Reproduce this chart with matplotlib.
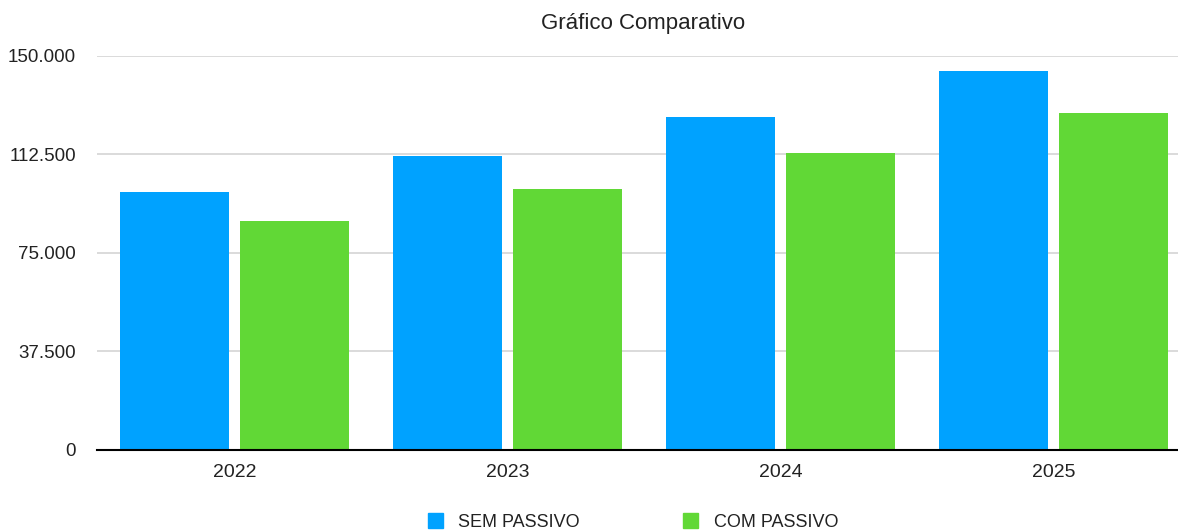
import matplotlib
matplotlib.use("Agg")
import matplotlib.pyplot as plt
import numpy as np
from matplotlib.patches import Patch
from matplotlib.ticker import FuncFormatter

# dados
anos = ["2022", "2023", "2024", "2025"]
sem_passivo = [98000, 111800, 126600, 144100]
com_passivo = [87200, 99450, 112800, 128300]
yticks = [0, 37500, 75000, 112500, 150000]

plt.rcParams['font.family'] = ['Liberation Sans', 'DejaVu Sans']

fig = plt.figure(figsize=(11.78, 5.32), dpi=100)
W, H = 1178, 532
ax = fig.add_axes([97 / W, 1 - 450 / H, (W - 97) / W, 394.4 / H])

x = np.arange(len(anos))
passo = 273.0          # px entre grupos
w = 109 / passo
off = 60 / passo
azul = "#00A2FF"
verde = "#61D836"
ax.bar(x - off, sem_passivo, w, color=azul, zorder=3)
ax.bar(x + off, com_passivo, w, color=verde, zorder=3)

ax.set_xlim(-137.5 / passo, (W - 234.5) / passo)
ax.set_ylim(0, 150000)
ax.set_yticks(yticks)
ax.yaxis.set_major_formatter(FuncFormatter(lambda v, p: f"{int(v):,}".replace(",", ".")))
ax.set_xticks(x)
ax.set_xticklabels(anos)
ax.tick_params(axis='both', length=0, colors="#222222")
ax.tick_params(axis='y', pad=15, labelsize=13.5)
ax.tick_params(axis='x', pad=10, labelsize=14)

ax.grid(axis='y', color="#d4d4d4", linewidth=1.2, zorder=0)
for s in ["top", "right", "left"]:
    ax.spines[s].set_visible(False)
ax.spines["bottom"].set_color("black")
ax.spines["bottom"].set_linewidth(1.5)
ax.spines["bottom"].set_zorder(4)

fig.text(643 / W, 1 - 23 / H, "Gráfico Comparativo", ha="center", va="center",
         fontsize=16, color="#222222")

handles = [Patch(color=azul, label="SEM PASSIVO"), Patch(color=verde, label="COM PASSIVO")]
fig.legend(handles=handles, ncol=2, loc="center", bbox_to_anchor=(633 / W, 1 - 522 / H),
           frameon=False, fontsize=13, handlelength=0.85, handleheight=0.85,
           handletextpad=0.85, columnspacing=5.7, labelcolor="#222222")

fig.savefig("out.png", dpi=100)
